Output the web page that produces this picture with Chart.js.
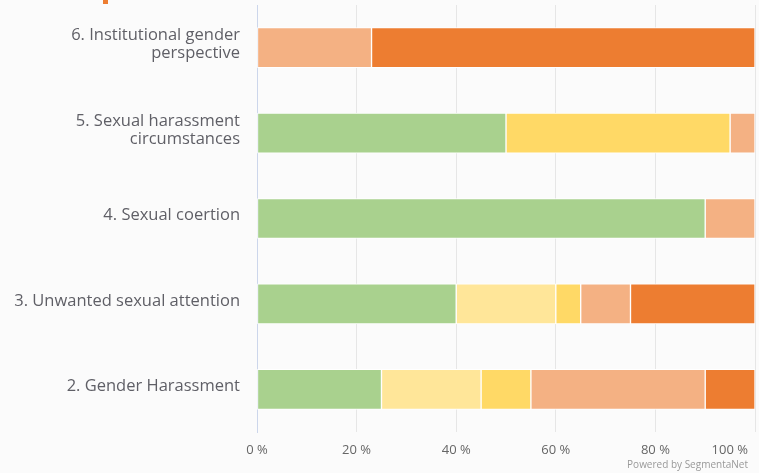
<!DOCTYPE html>
<html>
<head>
<meta charset="utf-8">
<script src="https://cdn.jsdelivr.net/npm/chart.js@4/dist/chart.umd.min.js"></script>
<style>
  html, body { margin: 0; padding: 0; background: #fbfbfb; }
  #wrap { position: relative; width: 759px; height: 473px; }
  #credit { position: absolute; right: 11px; top: 457px; font: 10px "Open Sans", sans-serif; color: #999; }
  #mark { position: absolute; left: 103px; top: 0; width: 5px; height: 4px; background: #ed7d31; }
</style>
</head>
<body>
<div id="wrap">
  <canvas id="chart" width="759" height="473"></canvas>
  <div id="mark"></div>
  <div id="credit">Powered by SegmentaNet</div>
</div>
<script>
const categories = [
    ['6. Institutional gender', 'perspective'],
    ['5. Sexual harassment', 'circumstances'],
    '4. Sexual coertion',
    '3. Unwanted sexual attention',
    '2. Gender Harassment'
]
const green = [0, 50, 90, 40, 25]
const lightYellow = [0, 0, 0, 20, 20]
const yellow = [0, 45, 0, 5, 10]
const lightOrange = [23, 5, 10, 10, 35]
const orange = [77, 0, 0, 25, 10]
const xTicks = [0, 20, 40, 60, 80, 100]

const colors = ['#a9d18e', '#ffe699', '#ffd966', '#f4b183', '#ed7d31']
const series = [green, lightYellow, yellow, lightOrange, orange]

const tickLabels = {
    id: 'tickLabels',
    afterDraw(chart) {
        const ctx = chart.ctx
        const x = chart.scales.x
        ctx.save()
        ctx.font = '13px "Open Sans", sans-serif'
        ctx.fillStyle = '#666'
        ctx.textBaseline = 'middle'
        xTicks.forEach(v => {
            const text = v + ' %'
            const w = ctx.measureText(text).width
            let left = x.getPixelForValue(v) - w / 2
            if (left + w > 748) left = 748 - w
            ctx.fillText(text, left, 450)
        })
        ctx.restore()
    }
}

new Chart(document.getElementById('chart').getContext('2d'), {
    type: 'bar',
    data: {
        labels: categories,
        datasets: series.map((d, i) => ({
            data: d,
            backgroundColor: colors[i],
            borderColor: '#ffffff',
            borderWidth: 1,
            borderSkipped: false,
            barThickness: 40
        }))
    },
    options: {
        indexAxis: 'y',
        responsive: false,
        animation: false,
        layout: {padding: {top: 5, right: 4, left: 0, bottom: 0}},
        plugins: {
            legend: {display: false},
            tooltip: {enabled: false}
        },
        scales: {
            x: {
                stacked: true,
                min: 0,
                max: 100,
                ticks: {display: false, stepSize: 20},
                grid: {color: '#e6e6e6', drawTicks: false},
                border: {display: false},
                afterFit: s => { s.height = 41 }
            },
            y: {
                stacked: true,
                grid: {display: false, drawTicks: false},
                border: {color: '#ccd6eb', width: 1},
                ticks: {
                    color: '#5f5f66',
                    padding: 17,
                    labelOffset: -3,
                    font: {family: '"Open Sans", sans-serif', size: 16.5, lineHeight: 1.1}
                },
                afterFit: s => {
                    s.width = 257
                    s.paddingTop = 0
                    s.paddingBottom = 0
                }
            }
        }
    },
    plugins: [tickLabels]
});
</script>
</body>
</html>
